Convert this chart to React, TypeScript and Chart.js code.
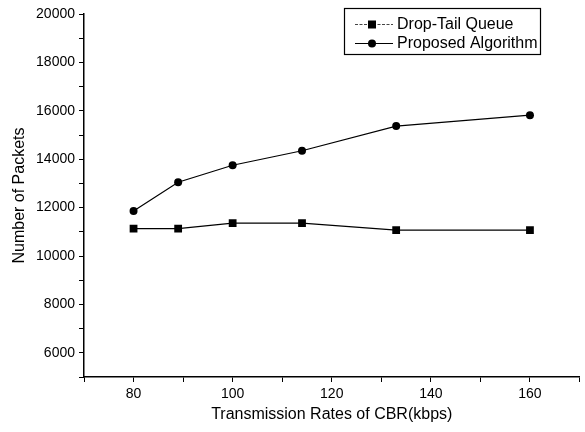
import React, { useEffect, useRef } from "react";
import { Chart, registerables } from "chart.js";

Chart.register(...registerables);

const rates = [80, 89, 100, 114, 133, 160];
const dropTail = [11130, 11130, 11360, 11360, 11070, 11070];
const proposed = [11860, 13050, 13750, 14350, 15370, 15820];
const seriesNames = ["Drop-Tail Queue", "Proposed Algorithm"];
const xTitle = "Transmission Rates of CBR(kbps)";
const yTitle = "Number of Packets";

const FONT = "'Liberation Sans', Arial, sans-serif";

const legendPlugin = {
  id: "boxLegend",
  afterDraw(chart: any) {
    const ctx = chart.ctx;
    const bx = 344, by = 8, bw = 196, bh = 46;
    ctx.save();
    ctx.fillStyle = "#fff";
    ctx.fillRect(bx, by, bw, bh);
    ctx.strokeStyle = "#000";
    ctx.lineWidth = 1.2;
    ctx.strokeRect(bx + 0.5, by + 0.5, bw, bh);
    const rows = [24, 43];
    chart.data.datasets.forEach((ds: any, i: number) => {
      const y = rows[i];
      ctx.strokeStyle = i === 0 ? "#444" : "#000";
      ctx.lineWidth = 1.2;
      ctx.setLineDash(i === 0 ? [3, 1.5] : []);
      ctx.beginPath();
      ctx.moveTo(355, y + 0.5);
      ctx.lineTo(393, y + 0.5);
      ctx.stroke();
      ctx.setLineDash([]);
      ctx.fillStyle = "#000";
      if (ds.pointStyle === "rect") {
        ctx.fillRect(368, y - 3.5, 8, 8);
      } else {
        ctx.beginPath();
        ctx.arc(372, y + 0.5, 4, 0, Math.PI * 2);
        ctx.fill();
      }
      ctx.font = `16px ${FONT}`;
      ctx.textBaseline = "middle";
      ctx.textAlign = "left";
      ctx.fillText(ds.label, 397, y + 1);
    });
    ctx.restore();
  },
};

export default function App() {
  const ref = useRef<HTMLCanvasElement>(null);
  useEffect(() => {
    if (!ref.current) return;
    const chart = new Chart(ref.current, {
      type: "line",
      data: {
        datasets: [
          {
            label: seriesNames[0],
            data: rates.map((x, i) => ({ x, y: dropTail[i] })),
            borderColor: "#000",
            backgroundColor: "#000",
            borderWidth: 1.2,
            pointStyle: "rect",
            pointRadius: 5.5,
            pointBorderWidth: 0,
            tension: 0,
          },
          {
            label: seriesNames[1],
            data: rates.map((x, i) => ({ x, y: proposed[i] })),
            borderColor: "#000",
            backgroundColor: "#000",
            borderWidth: 1.2,
            pointStyle: "circle",
            pointRadius: 4,
            pointBorderWidth: 0,
            tension: 0,
          },
        ],
      },
      options: {
        animation: false,
        responsive: false,
        maintainAspectRatio: false,
        layout: { padding: { top: 14, right: 2, left: 0, bottom: 0 } },
        plugins: { legend: { display: false }, tooltip: { enabled: false } },
        scales: {
          x: {
            type: "linear",
            min: 70,
            max: 170,
            afterFit: (s: any) => { s.height = 55; s.paddingRight = 0; s.paddingLeft = 0; },
            ticks: {
              stepSize: 10,
              color: "#000",
              font: { family: FONT, size: 14 },
              padding: 4,
              maxRotation: 0,
              autoSkip: false,
              callback: (v: any) => (Number(v) % 20 === 0 ? String(v) : ""),
            },
            grid: {
              drawOnChartArea: false,
              drawTicks: true,
              tickLength: 5,
              color: "#000",
              tickWidth: 1,
            },
            border: { color: "#000", width: 1.5 },
            title: {
              display: true,
              text: xTitle,
              color: "#000",
              font: { family: FONT, size: 16 },
              padding: { top: 6, bottom: 8 },
            },
          },
          y: {
            type: "linear",
            min: 5000,
            max: 20000,
            afterFit: (s: any) => { s.width = 84; },
            ticks: {
              stepSize: 1000,
              color: "#000",
              font: { family: FONT, size: 14 },
              padding: 4,
              autoSkip: false,
              callback: (v: any) => (Number(v) % 2000 === 0 ? String(v) : ""),
            },
            grid: {
              drawOnChartArea: false,
              drawTicks: true,
              tickLength: 5,
              color: "#000",
              tickWidth: 1,
            },
            border: { color: "#000", width: 1.5 },
            title: {
              display: true,
              text: yTitle,
              color: "#000",
              font: { family: FONT, size: 16 },
              padding: { top: 10, bottom: 4 },
            },
          },
        },
      },
      plugins: [legendPlugin],
    } as any);
    return () => chart.destroy();
  }, []);
  return (
    <div style={{ position: "fixed", left: 0, top: 0, width: 585, height: 432, background: "#fff" }}>
      <canvas ref={ref} width={585} height={432} style={{ width: 585, height: 432 }} />
    </div>
  );
}
